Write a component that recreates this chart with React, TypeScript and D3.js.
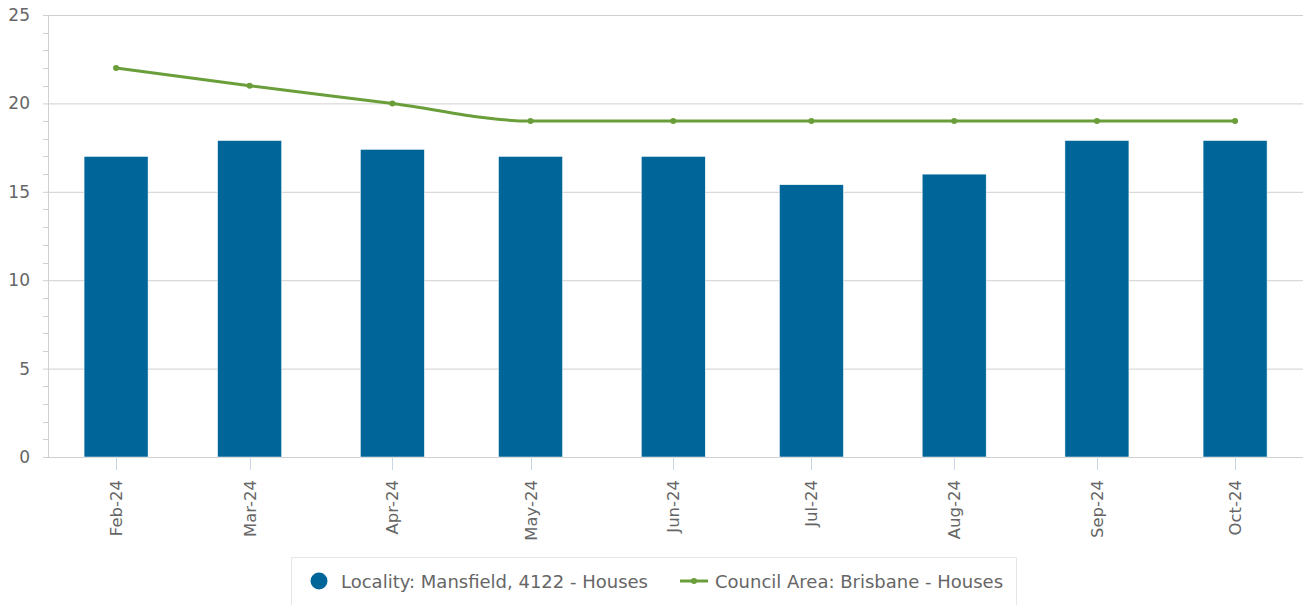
import React from "react";
import * as d3 from "d3";

const months = ["2024-02-01", "2024-03-01", "2024-04-01", "2024-05-01", "2024-06-01", "2024-07-01", "2024-08-01", "2024-09-01", "2024-10-01"];
const localityValues = [17, 17.9, 17.4, 17, 17, 15.4, 16, 17.9, 17.9];
const councilValues = [22, 21, 20, 19, 19, 19, 19, 19, 19];
const yTicks = [0, 5, 10, 15, 20, 25];
const seriesNames = ["Locality: Mansfield, 4122 - Houses", "Council Area: Brisbane - Houses"];

const W = 1306;
const H = 605;
const BAR = "#006699";
const LINE = "#6a9e3a";
const FONT = "'DejaVu Sans', sans-serif";

export default function App() {
  const parse = d3.timeParse("%Y-%m-%d");
  const dates = months.map((m) => parse(m) as Date);
  const x = d3
    .scaleTime()
    .domain([new Date(2024, 0, 17), new Date(2024, 9, 15, 18)])
    .range([47, 1303]);
  const y = d3.scaleLinear().domain([0, 25]).range([457, 15]);
  const minor = d3.range(0, 25, 1).filter((v) => v % 5 !== 0);
  const fmt = d3.timeFormat("%b-%y");
  const line = d3
    .line<number>()
    .x((_, i) => x(dates[i]))
    .y((d) => y(d))
    .curve(d3.curveMonotoneX);
  const barW = 64;

  return (
    <svg width={W} height={H} style={{ position: "absolute", left: 0, top: 0, fontFamily: FONT }}>
      <rect x={0} y={0} width={W} height={H} fill="#fff" />
      {yTicks.map((t) => (
        <g key={t}>
          <line x1={43} x2={1303} y1={y(t) + 0.5} y2={y(t) + 0.5} stroke="#d0d0d0" strokeWidth={1} />
          <text x={30} y={y(t) + 6} textAnchor="end" fontSize={17} fill="#666">
            {t}
          </text>
        </g>
      ))}
      {minor.map((t) => (
        <line key={t} x1={43} x2={48} y1={Math.round(y(t)) + 0.5} y2={Math.round(y(t)) + 0.5} stroke="#d0d0d0" />
      ))}
      <line x1={48.5} x2={48.5} y1={15} y2={457} stroke="#d0d0d0" />
      {dates.map((d, i) => (
        <rect
          key={i}
          x={x(d) - barW / 2}
          y={y(localityValues[i])}
          width={barW}
          height={y(0) - y(localityValues[i])}
          fill={BAR}
          stroke="#fff"
          strokeWidth={0.5}
        />
      ))}
      {dates.map((d, i) => (
        <g key={"t" + i}>
          <line x1={Math.round(x(d)) + 0.5} x2={Math.round(x(d)) + 0.5} y1={458} y2={470} stroke="#ccd6eb" />
          <text
            transform={`translate(${x(d) + 6},${480}) rotate(-90)`}
            textAnchor="end"
            fontSize={16.5}
            fill="#666"
          >
            {fmt(d)}
          </text>
        </g>
      ))}
      <path d={line(councilValues) || ""} fill="none" stroke={LINE} strokeWidth={3} />
      {dates.map((d, i) => (
        <circle key={"c" + i} cx={x(d)} cy={y(councilValues[i])} r={3} fill={LINE} />
      ))}
      <rect x={291.5} y={557.5} width={725} height={60} fill="#fff" stroke="#e6e6e6" />
      <circle cx={319} cy={581} r={8.5} fill={BAR} />
      <text x={341} y={587.5} fontSize={18} fill="#666">
        {seriesNames[0]}
      </text>
      <line x1={680} x2={708} y1={581} y2={581} stroke={LINE} strokeWidth={3} />
      <circle cx={694} cy={581} r={3} fill={LINE} />
      <text x={715} y={587.5} fontSize={18} fill="#666">
        {seriesNames[1]}
      </text>
    </svg>
  );
}
